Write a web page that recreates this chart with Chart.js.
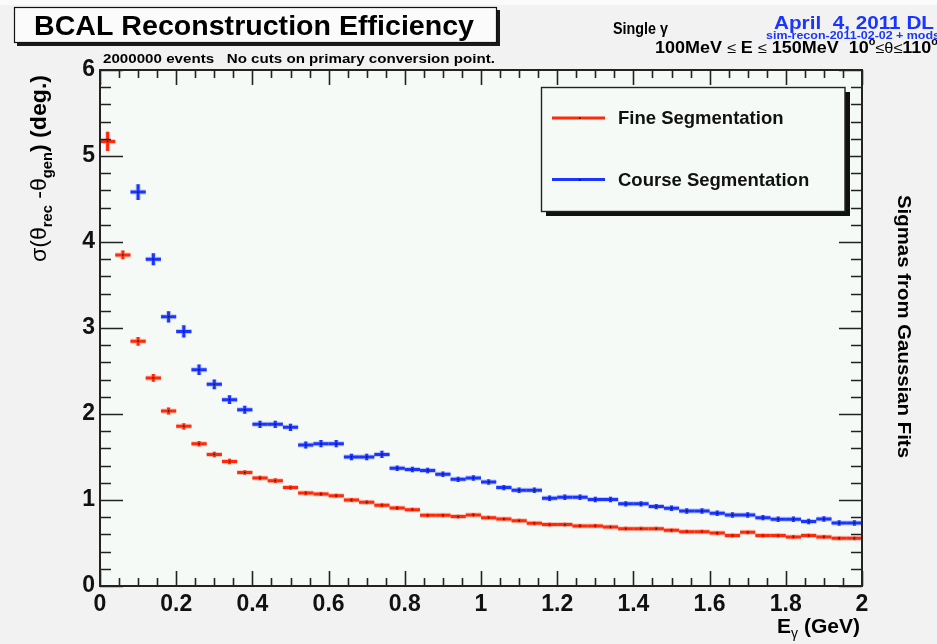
<!DOCTYPE html>
<html>
<head>
<meta charset="utf-8">
<style>
  html, body { margin: 0; padding: 0; background: #f2f2f2; }
  canvas { display: block; }
</style>
<script src="https://cdn.jsdelivr.net/npm/chart.js@4.4.0/dist/chart.umd.min.js"></script>
</head>
<body>
<canvas id="myChart" width="937" height="644"></canvas>
<script>
// Bin centres (GeV), bins are 0.04 GeV wide
const energies = [
  0.02, 0.06, 0.10, 0.14, 0.18, 0.22, 0.26, 0.30, 0.34, 0.38,
  0.42, 0.46, 0.50, 0.54, 0.58, 0.62, 0.66, 0.70, 0.74, 0.78,
  0.82, 0.86, 0.90, 0.94, 0.98, 1.02, 1.06, 1.10, 1.14, 1.18,
  1.22, 1.26, 1.30, 1.34, 1.38, 1.42, 1.46, 1.50, 1.54, 1.58,
  1.62, 1.66, 1.70, 1.74, 1.78, 1.82, 1.86, 1.90, 1.94, 1.98
];
const binHalfWidth = 0.02;

// Fine segmentation sigmas (deg.)
const fineSigma = [
  5.17, 3.85, 2.845, 2.42, 2.035, 1.857, 1.655, 1.53, 1.447, 1.32,
  1.256, 1.225, 1.144, 1.08, 1.07, 1.05, 1.00, 0.973, 0.94, 0.907,
  0.888, 0.822, 0.822, 0.807, 0.826, 0.795, 0.779, 0.76, 0.729, 0.714,
  0.714, 0.698, 0.698, 0.686, 0.667, 0.667, 0.667, 0.648, 0.632, 0.632,
  0.616, 0.586, 0.624, 0.586, 0.586, 0.57, 0.586, 0.57, 0.555, 0.555
];
const fineErr = [
  0.10, 0.04, 0.04, 0.033, 0.03, 0.025, 0.02, 0.02, 0.02, 0.015,
  0.015, 0.015, 0.012, 0.012, 0.012, 0.012, 0.012, 0.012, 0.012, 0.012,
  0.01, 0.01, 0.01, 0.01, 0.01, 0.01, 0.01, 0.01, 0.01, 0.01,
  0.01, 0.01, 0.01, 0.01, 0.01, 0.01, 0.01, 0.01, 0.01, 0.01,
  0.01, 0.01, 0.01, 0.01, 0.01, 0.01, 0.01, 0.01, 0.01, 0.01
];

// Course segmentation sigmas (deg.), nothing in the first two bins
const courseSigma = [
  null, null, 4.58, 3.80, 3.13, 2.96, 2.515, 2.345, 2.167, 2.05,
  1.88, 1.88, 1.845, 1.64, 1.655, 1.655, 1.50, 1.50, 1.53, 1.37,
  1.355, 1.342, 1.30, 1.24, 1.256, 1.21, 1.144, 1.113, 1.113, 1.02,
  1.031, 1.031, 1.005, 1.005, 0.955, 0.955, 0.923, 0.903, 0.872, 0.872,
  0.845, 0.826, 0.826, 0.795, 0.776, 0.776, 0.749, 0.779, 0.733, 0.733
];
const courseErr = [
  null, null, 0.08, 0.058, 0.054, 0.06, 0.05, 0.045, 0.04, 0.035,
  0.03, 0.03, 0.03, 0.03, 0.03, 0.03, 0.025, 0.025, 0.03, 0.02,
  0.02, 0.02, 0.02, 0.02, 0.02, 0.02, 0.02, 0.02, 0.02, 0.02,
  0.02, 0.02, 0.02, 0.02, 0.02, 0.02, 0.02, 0.02, 0.02, 0.02,
  0.02, 0.02, 0.02, 0.02, 0.02, 0.02, 0.02, 0.02, 0.02, 0.02
];

const xTickLabels = ['0', '0.2', '0.4', '0.6', '0.8', '1', '1.2', '1.4', '1.6', '1.8', '2'];
const yTickLabels = ['0', '1', '2', '3', '4', '5', '6'];

const RED = '#ff2a0a';
const BLUE = '#1a35ff';
const FONT = '"Liberation Sans", Arial, Helvetica, sans-serif';

const series = [
  { label: 'Fine Segmentation', values: fineSigma, errors: fineErr, color: RED },
  { label: 'Course Segmentation', values: courseSigma, errors: courseErr, color: BLUE }
];

function toPoints(values) {
  const pts = [];
  values.forEach((v, i) => { if (v !== null) pts.push({ x: energies[i], y: v }); });
  return pts;
}

// text squeezed/stretched to a given width
function fitText(ctx, text, x, y, width, font, color, align) {
  ctx.save();
  ctx.font = font;
  ctx.fillStyle = color;
  ctx.textBaseline = 'alphabetic';
  ctx.textAlign = align || 'left';
  const w = ctx.measureText(text).width;
  ctx.translate(x, y);
  ctx.scale(width ? width / w : 1, 1);
  ctx.fillText(text, 0, 0);
  ctx.restore();
}

// text made of parts with their own font and vertical shift (sub/superscripts)
function richText(ctx, parts, width) {
  let total = 0;
  parts.forEach(p => { ctx.font = p.font; total += ctx.measureText(p.t).width; });
  ctx.save();
  ctx.scale(width / total, 1);
  let cx = 0;
  parts.forEach(p => {
    ctx.font = p.font;
    ctx.fillText(p.t, cx, p.dy || 0);
    cx += ctx.measureText(p.t).width;
  });
  ctx.restore();
}

const backgroundPlugin = {
  id: 'background',
  beforeDraw(chart) {
    const { ctx, chartArea: a } = chart;
    ctx.save();
    ctx.fillStyle = '#f2f2f2';
    ctx.fillRect(0, 0, chart.width, chart.height);
    ctx.fillStyle = '#fbfbfb';
    ctx.fillRect(0, 0, chart.width, 5);
    ctx.fillStyle = '#f6faf6';
    ctx.fillRect(a.left, a.top, a.right - a.left, a.bottom - a.top);
    ctx.restore();
  }
};

const errorBarPlugin = {
  id: 'errorBars',
  beforeDatasetsDraw(chart) {
    const { ctx, chartArea: a, scales: { x, y } } = chart;
    ctx.save();
    ctx.beginPath();
    ctx.rect(a.left, a.top, a.right - a.left, a.bottom - a.top);
    ctx.clip();
    ctx.lineCap = 'butt';
    series.forEach(s => {
      s.values.forEach((v, i) => {
        if (v === null) return;
        const xl = x.getPixelForValue(energies[i] - binHalfWidth);
        const xr = x.getPixelForValue(energies[i] + binHalfWidth);
        const xc = x.getPixelForValue(energies[i]);
        const yc = y.getPixelForValue(v);
        const yt = y.getPixelForValue(v + s.errors[i]);
        const yb = y.getPixelForValue(v - s.errors[i]);
        [[5, 0.25], [3, 1]].forEach(([lw, alpha]) => {
          ctx.globalAlpha = alpha;
          ctx.strokeStyle = s.color;
          ctx.lineWidth = lw;
          ctx.beginPath();
          ctx.moveTo(xl, yc);
          ctx.lineTo(xr, yc);
          ctx.moveTo(xc, yt - 1);
          ctx.lineTo(xc, yb + 1);
          ctx.stroke();
        });
      });
    });
    ctx.restore();
  }
};

const framePlugin = {
  id: 'frame',
  afterDatasetsDraw(chart) {
    const { ctx, chartArea: a, scales: { x, y } } = chart;
    ctx.save();
    ctx.strokeStyle = '#222';
    ctx.lineWidth = 1.6;
    ctx.beginPath();
    // x ticks every 0.05, major every 0.2, bottom and top
    for (let i = 0; i <= 40; i++) {
      const px = Math.round(x.getPixelForValue(i * 0.05)) + 0.5;
      const len = i % 4 === 0 ? 15 : 8;
      ctx.moveTo(px, a.bottom);
      ctx.lineTo(px, a.bottom - len);
      ctx.moveTo(px, a.top);
      ctx.lineTo(px, a.top + len);
    }
    // y ticks every 0.2, major every 1, left and right
    for (let i = 0; i <= 30; i++) {
      const py = Math.round(y.getPixelForValue(i * 0.2)) + 0.5;
      const len = i % 5 === 0 ? 23 : 11;
      ctx.moveTo(a.left, py);
      ctx.lineTo(a.left + len, py);
      ctx.moveTo(a.right, py);
      ctx.lineTo(a.right - len, py);
    }
    ctx.stroke();
    ctx.lineWidth = 2;
    ctx.strokeRect(a.left, a.top, a.right - a.left, a.bottom - a.top);
    ctx.restore();
  }
};

const annotationPlugin = {
  id: 'annotations',
  afterDraw(chart) {
    const { ctx } = chart;
    ctx.save();

    // title box with shadow
    ctx.fillStyle = '#1a1a1a';
    ctx.fillRect(17, 10, 483, 36);
    ctx.fillStyle = '#fbfbfb';
    ctx.fillRect(14, 7, 483, 36);
    ctx.strokeStyle = '#111';
    ctx.lineWidth = 1.2;
    ctx.strokeRect(14.5, 7.5, 482, 35);
    fitText(ctx, 'BCAL Reconstruction Efficiency', 34, 35, 440, 'bold 27px ' + FONT, '#000');

    fitText(ctx, '2000000 events   No cuts on primary conversion point.', 103, 63, 392, 'bold 12.5px ' + FONT, '#000');

    // top right info
    fitText(ctx, 'Single \u03b3', 613, 34, 55, 'bold 16px ' + FONT, '#000');
    fitText(ctx, 'April  4, 2011 DL', 934, 29, 160, 'bold 19px ' + FONT, BLUE, 'right');
    fitText(ctx, 'sim-recon-2011-02-02 + mods', 766, 39, 174, 'bold 11px ' + FONT, BLUE);
    ctx.fillStyle = '#000';
    ctx.textBaseline = 'alphabetic';
    ctx.save();
    ctx.translate(655, 53);
    richText(ctx, [
      { t: '100MeV ', font: 'bold 16.5px ' + FONT },
      { t: '\u2264', font: '15px ' + FONT },
      { t: ' E ', font: 'bold 16.5px ' + FONT },
      { t: '\u2264', font: '15px ' + FONT },
      { t: ' 150MeV  10', font: 'bold 16.5px ' + FONT },
      { t: 'o', font: 'bold 10px ' + FONT, dy: -8 },
      { t: '\u2264\u03b8\u2264', font: '15px ' + FONT },
      { t: '110', font: 'bold 16.5px ' + FONT },
      { t: 'o', font: 'bold 10px ' + FONT, dy: -8 }
    ], 283);
    ctx.restore();

    // y axis title
    ctx.save();
    ctx.translate(46, 262);
    ctx.rotate(-Math.PI / 2);
    richText(ctx, [
      { t: '\u03c3(\u03b8', font: '22px ' + FONT },
      { t: 'rec', font: 'bold 14px ' + FONT, dy: 6 },
      { t: ' -\u03b8', font: '22px ' + FONT },
      { t: 'gen', font: 'bold 14px ' + FONT, dy: 6 },
      { t: ') (deg.)', font: 'bold 22px ' + FONT }
    ], 187);
    ctx.restore();

    // x axis title
    ctx.save();
    ctx.translate(777, 633);
    richText(ctx, [
      { t: 'E', font: 'bold 21px ' + FONT },
      { t: '\u03b3', font: '14px ' + FONT, dy: 5 },
      { t: ' (GeV)', font: 'bold 21px ' + FONT }
    ], 83);
    ctx.restore();

    // right side title
    ctx.save();
    ctx.translate(898, 195);
    ctx.rotate(Math.PI / 2);
    fitText(ctx, 'Sigmas from Gaussian Fits', 0, 0, 263, 'bold 19px ' + FONT, '#000');
    ctx.restore();

    // legend box
    ctx.fillStyle = '#111';
    ctx.fillRect(546, 92, 304, 124);
    ctx.fillStyle = '#f6faf6';
    ctx.fillRect(541.5, 87.5, 303.5, 124);
    ctx.strokeStyle = '#222';
    ctx.lineWidth = 1.4;
    ctx.strokeRect(541.5, 87.5, 303.5, 124);
    series.forEach((s, k) => {
      const ly = 118 + k * 61.5;
      ctx.strokeStyle = s.color;
      ctx.lineWidth = 3;
      ctx.beginPath();
      ctx.moveTo(552, ly);
      ctx.lineTo(605, ly);
      ctx.stroke();
      ctx.fillStyle = '#000';
      ctx.fillRect(579, ly - 0.5, 1.5, 1.5);
      ctx.fillStyle = '#111';
      ctx.font = 'bold 18.5px ' + FONT;
      ctx.textBaseline = 'middle';
      ctx.fillText(s.label, 618, ly + 1);
    });

    ctx.restore();
  }
};

const tickFont = { family: FONT, size: 23, weight: 'bold' };

new Chart(document.getElementById('myChart'), {
  type: 'scatter',
  data: {
    datasets: series.map(s => ({
      label: s.label,
      data: toPoints(s.values),
      showLine: false,
      pointStyle: 'rect',
      pointRadius: 1,
      pointBackgroundColor: '#111',
      pointBorderWidth: 0
    }))
  },
  options: {
    responsive: false,
    devicePixelRatio: 1,
    animation: false,
    layout: { padding: { top: 70, right: 75, left: 0, bottom: 0 } },
    plugins: { legend: { display: false }, tooltip: { enabled: false } },
    scales: {
      x: {
        type: 'linear',
        min: 0,
        max: 2,
        grid: { display: false, drawTicks: false },
        border: { display: false },
        ticks: {
          stepSize: 0.2,
          autoSkip: false,
          maxRotation: 0,
          padding: 5,
          color: '#111',
          font: tickFont,
          callback: (v, i) => xTickLabels[i]
        },
        afterFit: s => { s.height = 58; }
      },
      y: {
        min: 0,
        max: 6,
        grid: { display: false, drawTicks: false },
        border: { display: false },
        ticks: {
          stepSize: 1,
          padding: 5,
          color: '#111',
          font: tickFont,
          callback: (v, i) => yTickLabels[i]
        },
        afterFit: s => { s.width = 100; }
      }
    }
  },
  plugins: [backgroundPlugin, errorBarPlugin, framePlugin, annotationPlugin]
});
</script>
</body>
</html>
